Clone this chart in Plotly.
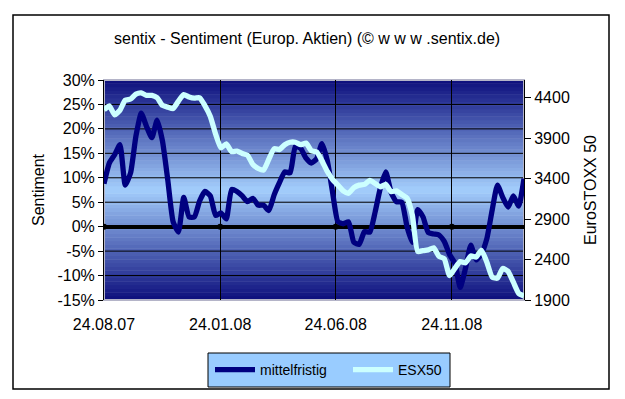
import pandas as pd
import plotly.graph_objects as go

# ---------------- data ----------------
start_date = "2007-08-24"
n_weeks = 80
dates = pd.date_range(start_date, periods=n_weeks, freq="7D")

mittelfristig = [
    8.8, 13.0, 14.7, 16.8, 8.5, 11.0, 18.5, 23.2, 20.5, 18.2,
    21.8, 17.5, 9.5, 1.0, -1.1, 6.0, 2.0, 2.0, 5.3, 7.2,
    6.3, 2.3, 2.8, 1.6, 7.6, 7.2, 6.3, 5.1, 5.8, 4.4,
    4.4, 3.3, 6.5, 9.0, 11.2, 11.0, 16.5, 16.0, 14.0, 13.0,
    13.9, 17.0, 13.5, 7.0, 1.0, 0.6, 1.0, -3.2, -3.6, -1.0,
    -1.1, 3.0, 8.0, 11.2, 7.0, 5.1, 5.0, 0.0, -3.2, 3.5,
    2.0, -1.2, -1.5, -1.7, -3.0, -5.7, -7.5, -12.4, -8.5, -3.8,
    -6.8, -5.5, -2.5, 3.3, 8.5, 6.0, 4.0, 6.3, 4.2, 9.8,
]

esx50 = [
    4250, 4300, 4190, 4246, 4370, 4385, 4445, 4460, 4430, 4430,
    4400, 4305, 4285, 4267, 4360, 4440, 4410, 4395, 4400, 4300,
    4170, 3950, 3780, 3830, 3735, 3740, 3711, 3690, 3575, 3526,
    3505, 3640, 3770, 3760, 3820, 3850, 3850, 3820, 3840, 3745,
    3731, 3620, 3490, 3390, 3320, 3250, 3220, 3290, 3320, 3330,
    3378, 3340, 3300, 3330, 3240, 3250, 3205, 3160, 2950, 2500,
    2510, 2520, 2545, 2440, 2410, 2200, 2291, 2375, 2360, 2445,
    2430, 2515, 2370, 2185, 2170, 2290, 2255, 2120, 1983, 1950,
]

x_tick_dates = ["2007-08-24", "2008-01-24", "2008-06-24", "2008-11-24"]
x_tick_labels = ["24.08.07", "24.01.08", "24.06.08", "24.11.08"]
y_ticks = [-15, -10, -5, 0, 5, 10, 15, 20, 25, 30]
y_tick_labels = ["-15%", "-10%", "-5%", "0%", "5%", "10%", "15%", "20%", "25%", "30%"]
y2_ticks = [1900, 2400, 2900, 3400, 3900, 4400]

title_text = "sentix - Sentiment (Europ. Aktien) (\u00a9 w w w .sentix.de)"

# ---------------- layout geometry ----------------
OFF = 8                       # page body margin of the browser
W, H = 625 - OFF, 399 - OFF   # figure size so that it fits the window
L, R, T, B = 104, 524, 80, 300  # plot area box in window pixels


def px_x(p):
    return (p - L) / (R - L)


def px_y(p):
    return (B - p) / (B - T)


FONT = "Liberation Sans, Arial, sans-serif"

fig = go.Figure()
fig.add_trace(go.Scatter(
    x=dates, y=mittelfristig, name="mittelfristig", mode="lines",
    line=dict(color="#000080", width=5.3, shape="spline", smoothing=0.5),
    yaxis="y", legend="legend",
))
fig.add_trace(go.Scatter(
    x=dates, y=esx50, name="ESX50", mode="lines",
    line=dict(color="#CCFFFF", width=5.3, shape="spline", smoothing=0.5),
    yaxis="y2", legend="legend2",
))

# gradient background (dark navy at edges, light blue in centre)
shapes = []
edge = (12, 14, 124)
centre = (164, 206, 252)
N = 60
for k in range(N):
    t = (k + 0.5) / N
    d = abs(t - 0.5) * 2
    c = tuple(round(centre[i] * (1 - d) + edge[i] * d) for i in range(3))
    shapes.append(dict(
        type="rect", xref="x domain", yref="y domain",
        x0=0, x1=1, y0=k / N, y1=(k + 1) / N + 0.002,
        fillcolor="rgb(%d,%d,%d)" % c, line=dict(width=0), layer="below",
    ))
# horizontal gridlines
for v in y_ticks:
    if v in (-15, 30, 0):
        continue
    shapes.append(dict(
        type="line", xref="x domain", yref="y", x0=0, x1=1, y0=v, y1=v,
        line=dict(color="black", width=1), layer="below",
    ))
# plot-area frame
shapes.append(dict(
    type="rect", xref="x domain", yref="y domain", x0=0, x1=1, y0=0, y1=1,
    line=dict(color="#B4B4C8", width=2), fillcolor="rgba(0,0,0,0)", layer="below",
))
# tick dots on the zero line
for d in x_tick_dates:
    shapes.append(dict(
        type="circle", xref="x", yref="y", xsizemode="pixel", ysizemode="pixel",
        xanchor=d, yanchor=0, x0=-3, x1=3, y0=-3, y1=3,
        fillcolor="black", line=dict(width=0), layer="above",
    ))
# outer chart frame
shapes.append(dict(
    type="rect", xref="paper", yref="paper",
    x0=px_x(13), x1=px_x(609), y0=px_y(389), y1=px_y(15),
    line=dict(color="black", width=1.5), fillcolor="rgba(0,0,0,0)", layer="above",
))
# legend box
shapes.append(dict(
    type="rect", xref="paper", yref="paper",
    x0=px_x(208), x1=px_x(450), y0=px_y(387), y1=px_y(353),
    line=dict(color="black", width=1), fillcolor="#99CCFF", layer="below",
))

annotations = [
    dict(text=title_text, xref="paper", yref="paper", x=px_x(307), y=px_y(38),
         xanchor="center", yanchor="middle", showarrow=False,
         font=dict(family=FONT, size=16, color="black")),
    dict(text="Sentiment", xref="paper", yref="paper", x=px_x(38), y=px_y(190),
         xanchor="center", yanchor="middle", showarrow=False, textangle=-90,
         font=dict(family=FONT, size=16, color="black")),
    dict(text="EuroSTOXX 50", xref="paper", yref="paper", x=px_x(590), y=px_y(190),
         xanchor="center", yanchor="middle", showarrow=False, textangle=-90,
         font=dict(family=FONT, size=16, color="black")),
]

legend_common = dict(
    orientation="h", xanchor="left", yanchor="top",
    bgcolor="rgba(0,0,0,0)", borderwidth=0,
    font=dict(family=FONT, size=14, color="black"), itemwidth=40,
)

fig.update_layout(
    width=W, height=H, autosize=False,
    margin=dict(l=L - OFF, r=W - (R - OFF), t=T - OFF, b=H - (B - OFF), pad=0,
                autoexpand=False),
    paper_bgcolor="white", plot_bgcolor="rgba(0,0,0,0)",
    font=dict(family=FONT, size=16, color="black"),
    showlegend=True,
    legend=dict(x=px_x(210), y=px_y(354), **legend_common),
    legend2=dict(x=px_x(348), y=px_y(354), **legend_common),
    shapes=shapes,
    annotations=annotations,
    xaxis=dict(
        type="date", range=[dates[0], dates[-1]],
        tickmode="array", tickvals=x_tick_dates, ticktext=x_tick_labels,
        showgrid=True, gridcolor="black", gridwidth=1,
        showline=False, zeroline=False, ticks="", ticklabelstandoff=13,
        tickfont=dict(size=16), automargin=False,
    ),
    yaxis=dict(
        range=[-15, 30], tickmode="array", tickvals=y_ticks, ticktext=y_tick_labels,
        showgrid=False,
        zeroline=True, zerolinecolor="black", zerolinewidth=3.8,
        showline=True, linecolor="black", linewidth=1,
        ticks="outside", ticklen=5, tickcolor="black",
        tickfont=dict(size=16), automargin=False,
    ),
    yaxis2=dict(
        range=[1900, 4620], overlaying="y", side="right",
        tickmode="array", tickvals=y2_ticks,
        showgrid=False, zeroline=False,
        showline=True, linecolor="black", linewidth=1,
        ticks="outside", ticklen=6, tickcolor="black",
        tickfont=dict(size=16), automargin=False,
    ),
)

fig.write_html("out.html")
